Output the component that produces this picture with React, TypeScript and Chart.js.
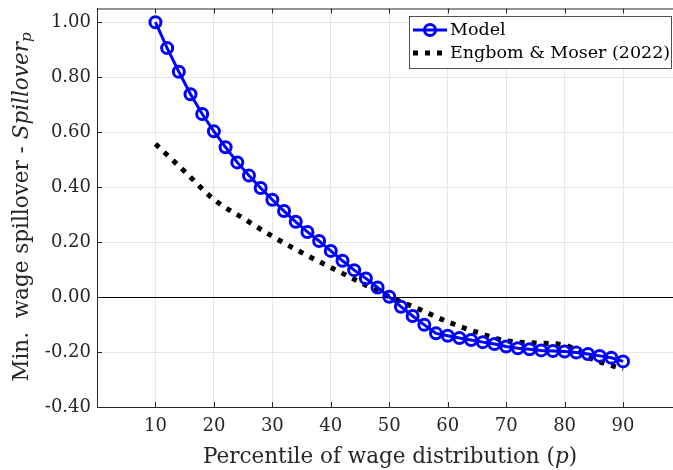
import React, { useEffect, useRef } from "react";
import { Chart, registerables } from "chart.js";

Chart.register(...registerables);

const modelP = [10, 12, 14, 16, 18, 20, 22, 24, 26, 28, 30, 32, 34, 36, 38, 40, 42, 44, 46, 48, 50, 52, 54, 56, 58, 60, 62, 64, 66, 68, 70, 72, 74, 76, 78, 80, 82, 84, 86, 88, 90];
const modelValues = [1.0, 0.906, 0.82, 0.738, 0.666, 0.603, 0.545, 0.49, 0.442, 0.397, 0.354, 0.313, 0.274, 0.237, 0.204, 0.168, 0.132, 0.098, 0.068, 0.035, 0.001, -0.035, -0.069, -0.101, -0.132, -0.141, -0.149, -0.156, -0.164, -0.171, -0.18, -0.186, -0.19, -0.194, -0.196, -0.198, -0.202, -0.207, -0.214, -0.221, -0.234];

const emP = [10, 15, 20, 25, 30, 35, 40, 45, 50, 55, 60, 65, 70, 75, 80, 85, 90];
const emValues = [0.557, 0.457, 0.355, 0.287, 0.221, 0.162, 0.108, 0.054, 0.001, -0.043, -0.09, -0.128, -0.159, -0.167, -0.175, -0.228, -0.262];

const xTicks = [10, 20, 30, 40, 50, 60, 70, 80, 90];
const yTicks = [-0.4, -0.2, 0, 0.2, 0.4, 0.6, 0.8, 1.0];

const seriesNames = ["Model", "Engbom & Moser (2022)"];

const SERIF = "'DejaVu Serif', serif";
const AXIS = "#262626";

const decorPlugin = {
  id: "decor",
  afterDraw(chart: any) {
    const { ctx, chartArea } = chart;
    const { left, right, top, bottom } = chartArea;
    const xs = chart.scales.x;
    const ys = chart.scales.y;
    ctx.save();
    // top border
    ctx.strokeStyle = AXIS;
    ctx.lineWidth = 1;
    ctx.beginPath();
    ctx.moveTo(left, top + 0.5);
    ctx.lineTo(right, top + 0.5);
    ctx.stroke();
    // inner ticks
    ctx.beginPath();
    for (const t of xTicks) {
      const px = Math.round(xs.getPixelForValue(t)) + 0.5;
      ctx.moveTo(px, bottom);
      ctx.lineTo(px, bottom - 5);
      ctx.moveTo(px, top);
      ctx.lineTo(px, top + 5);
    }
    for (const t of yTicks) {
      const py = Math.round(ys.getPixelForValue(t)) + 0.5;
      ctx.moveTo(left, py);
      ctx.lineTo(left + 5, py);
    }
    ctx.stroke();

    // legend
    const lx = 409, ly = 16, lw = 262, lh = 52;
    ctx.fillStyle = "#ffffff";
    ctx.fillRect(lx, ly, lw, lh);
    ctx.strokeStyle = AXIS;
    ctx.lineWidth = 0.8;
    ctx.strokeRect(lx + 0.5, ly + 0.5, lw, lh);
    // row 1
    const r1 = 30;
    ctx.strokeStyle = "#0000ff";
    ctx.lineWidth = 3;
    ctx.beginPath();
    ctx.moveTo(413, r1);
    ctx.lineTo(447, r1);
    ctx.stroke();
    ctx.lineWidth = 3;
    ctx.beginPath();
    ctx.arc(430, r1, 5.5, 0, Math.PI * 2);
    ctx.stroke();
    // row 2
    const r2 = 53;
    ctx.strokeStyle = "#000000";
    ctx.lineWidth = 5;
    ctx.setLineDash([5, 7]);
    ctx.beginPath();
    ctx.moveTo(413, r2);
    ctx.lineTo(449, r2);
    ctx.stroke();
    ctx.setLineDash([]);
    ctx.fillStyle = "#000000";
    ctx.font = `17.5px ${SERIF}`;
    ctx.textBaseline = "middle";
    ctx.textAlign = "left";
    ctx.fillText(seriesNames[0], 450, r1);
    ctx.fillText(seriesNames[1], 450, r2);

    // x title
    ctx.fillStyle = AXIS;
    const xFont = `21.5px ${SERIF}`;
    const xFontI = `italic 21.5px ${SERIF}`;
    const segsX: [string, string][] = [
      ["Percentile of wage distribution (", xFont],
      ["p", xFontI],
      [")", xFont],
    ];
    let totalX = 0;
    for (const [s, f] of segsX) {
      ctx.font = f;
      totalX += ctx.measureText(s).width;
    }
    let cx = 390 - totalX / 2;
    for (const [s, f] of segsX) {
      ctx.font = f;
      ctx.fillText(s, cx, 457);
      cx += ctx.measureText(s).width;
    }

    // y title
    ctx.save();
    ctx.translate(22, 207);
    ctx.rotate(-Math.PI / 2);
    const yFont = `21.5px ${SERIF}`;
    const yFontI = `italic 21.5px ${SERIF}`;
    const yFontSub = `italic 15px ${SERIF}`;
    const segsY: [string, string, number][] = [
      ["Min.  wage spillover - ", yFont, 0],
      ["Spillover", yFontI, 0],
      ["p", yFontSub, 5],
    ];
    let totalY = 0;
    for (const [s, f] of segsY) {
      ctx.font = f;
      totalY += ctx.measureText(s).width;
    }
    let cy = -totalY / 2;
    for (const [s, f, off] of segsY) {
      ctx.font = f;
      ctx.fillText(s, cy, off);
      cy += ctx.measureText(s).width;
    }
    ctx.restore();
    ctx.restore();
  },
};

export default function App() {
  const ref = useRef<HTMLCanvasElement>(null);
  useEffect(() => {
    if (!ref.current) return;
    const chart = new Chart(ref.current, {
      type: "line",
      data: {
        datasets: [
          {
            label: seriesNames[0],
            data: modelP.map((p, i) => ({ x: p, y: modelValues[i] })),
            borderColor: "#0000ff",
            borderWidth: 3,
            pointRadius: 5.5,
            pointBorderWidth: 3,
            pointBorderColor: "#0000ff",
            pointBackgroundColor: "rgba(0,0,0,0)",
            tension: 0,
            order: 0,
          },
          {
            label: seriesNames[1],
            data: emP.map((p, i) => ({ x: p, y: emValues[i] })),
            borderColor: "#000000",
            borderWidth: 5,
            borderDash: [5, 7],
            pointRadius: 0,
            cubicInterpolationMode: "monotone",
            order: 1,
          },
        ],
      },
      options: {
        responsive: false,
        animation: false,
        layout: { padding: { top: 7, right: 5, left: 0, bottom: 0 } },
        plugins: {
          legend: { display: false },
          tooltip: { enabled: false },
        },
        scales: {
          x: {
            type: "linear",
            min: 0,
            max: 100,
            afterBuildTicks: (s: any) => {
              s.ticks = xTicks.map((v) => ({ value: v }));
            },
            afterFit: (s: any) => {
              s.height = 63;
              s.paddingLeft = 0;
              s.paddingRight = 0;
            },
            ticks: {
              font: { family: SERIF, size: 18 },
              color: AXIS,
              padding: 9,
              maxRotation: 0,
              callback: (v: any) => String(v),
            },
            grid: { color: "#e6e6e6", lineWidth: 1, drawTicks: false },
            border: { display: true, color: AXIS, width: 1 },
          },
          y: {
            type: "linear",
            min: -0.4,
            max: 1.05,
            afterBuildTicks: (s: any) => {
              s.ticks = yTicks.map((v) => ({ value: v }));
            },
            afterFit: (s: any) => {
              s.width = 97;
              s.paddingTop = 0;
              s.paddingBottom = 0;
            },
            ticks: {
              font: { family: SERIF, size: 18 },
              color: AXIS,
              padding: 6,
              callback: (v: any) => Number(v).toFixed(2),
            },
            grid: {
              color: (c: any) => (c.tick && Math.abs(c.tick.value) < 1e-9 ? "#000000" : "#e6e6e6"),
              lineWidth: 1,
              drawTicks: false,
            },
            border: { display: true, color: AXIS, width: 1 },
          },
        },
      },
      plugins: [decorPlugin],
    });
    return () => chart.destroy();
  }, []);
  return (
    <div style={{ position: "fixed", left: 0, top: 0, width: 673, height: 470, overflow: "hidden", background: "#fff" }}>
      <canvas ref={ref} width={690} height={470} style={{ display: "block" }} />
    </div>
  );
}
